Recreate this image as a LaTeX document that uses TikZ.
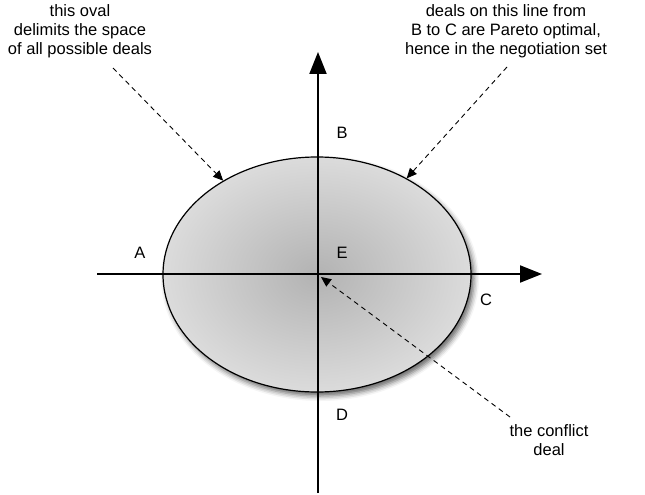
\documentclass[tikz,border=0pt]{standalone}
\usepackage{fontspec}
\setmainfont{Liberation Sans}
\usetikzlibrary{arrows.meta, shapes.geometric, shadows.blur}

\begin{document}
\begin{tikzpicture}[
    x=1pt, y=-1pt,
    axis/.style={-{Triangle[length=22pt, width=17pt]}, line width=2pt, draw=black},
    oval/.style={ellipse, draw=black, line width=1.2pt, minimum width=308pt, minimum height=235pt, inner sep=0pt,
        inner color=black!30, outer color=black!14,
        blur shadow={shadow xshift=3pt, shadow yshift=-4pt, shadow blur radius=5pt, shadow opacity=60}},
    pointer/.style={-{Triangle[length=10pt, width=9pt]}, line width=0.9pt, dash pattern=on 5pt off 4pt},
    note/.style={align=center, font=\fontsize{16.5}{19}\selectfont, inner sep=0pt},
    point/.style={font=\fontsize{16.5}{19}\selectfont, inner sep=0pt}
]
    \useasboundingbox (0,0) rectangle (645,495);

    % Define Nodes
    \node[oval] (space) at (317,274.5) {};

    \coordinate (xleft)  at (97,274);
    \coordinate (xright) at (542,274);
    \coordinate (ybot)   at (318,493);
    \coordinate (ytop)   at (318,52);

    \node[point] (A) at (140,253) {A};
    \node[point] (B) at (342,133) {B};
    \node[point] (E) at (342,253) {E};
    \node[point] (C) at (486,300) {C};
    \node[point] (D) at (342,415) {D};

    \node[note] (ovalnote) at (80,31) {this oval\\delimits the space\\of all possible deals};
    \node[note] (paretonote) at (506,31) {deals on this line from\\B to C are Pareto optimal,\\hence in the negotiation set};
    \node[note] (conflictnote) at (549,440) {the conflict\\deal};

    \coordinate (ovalfrom)     at (113,68);
    \coordinate (paretofrom)   at (507,67);
    \coordinate (conflictfrom) at (510,417);
    \coordinate (conflictdeal) at (321,277);

    % Draw Axes
    \draw[axis] (xleft) -- (xright);
    \draw[axis] (ybot) -- (ytop);

    % Draw Pointers
    \draw[pointer] (ovalfrom) -- (space.135);
    \draw[pointer] (paretofrom) -- (space.47);
    \draw[pointer] (conflictfrom) -- (conflictdeal);
\end{tikzpicture}
\end{document}
